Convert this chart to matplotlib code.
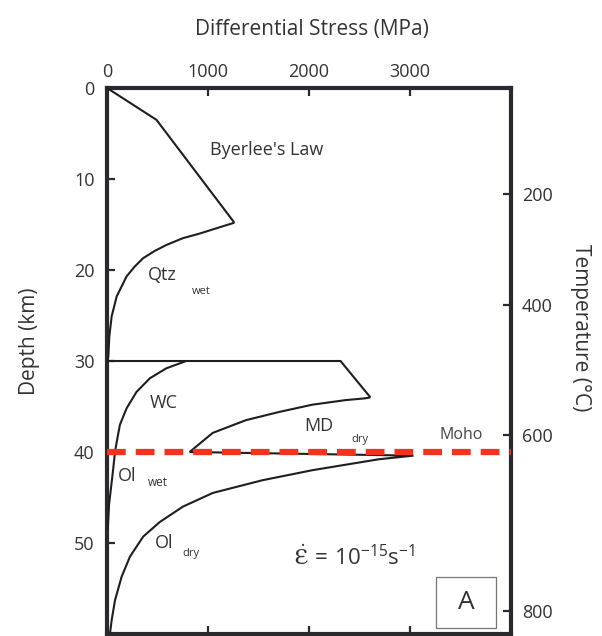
import matplotlib
matplotlib.use('Agg')
import matplotlib.pyplot as plt
from matplotlib.patches import Rectangle

plt.rcParams['font.family'] = ['Open Sans', 'DejaVu Sans']
plt.rcParams['mathtext.fontset'] = 'custom'
plt.rcParams['mathtext.rm'] = 'Open Sans'
plt.rcParams['mathtext.it'] = 'Open Sans'

# ---------------- data (stress in MPa, depth in km) ----------------
byerlee_stress = [0, 490, 1261]
byerlee_depth = [0, 3.5, 14.8]

qtz_wet_stress = [1261, 916, 752, 588, 473, 358, 276, 194, 96, 46, 23, 13, 0]
qtz_wet_depth = [14.8, 16.0, 16.5, 17.25, 17.9, 18.7, 19.6, 20.7, 22.9, 25.1, 27.3, 29.5, 30.0]

lower_crust_stress = [0, 2312, 2608]
lower_crust_depth = [30.0, 30.0, 34.0]

md_dry_stress = [2608, 2558, 2361, 2033, 1704, 1376, 1047, 818]
md_dry_depth = [34.0, 34.1, 34.3, 34.8, 35.6, 36.5, 37.9, 40.0]

ol_dry_stress = [818, 3034, 2690, 2033, 1540, 1047, 752, 522, 358, 227, 145, 79, 46, 30]
ol_dry_depth = [40.0, 40.4, 40.8, 42.0, 43.1, 44.5, 46.0, 47.7, 49.3, 51.5, 53.7,
                56.3, 58.5, 59.9]

wc_stress = [785, 588, 424, 292, 194, 128, 96, 79]
wc_depth = [30.0, 30.8, 31.9, 33.4, 35.2, 37.0, 38.9, 40.0]

ol_wet_stress = [79, 62, 39, 20, 10, 0]
ol_wet_depth = [40.0, 41.8, 44.0, 45.8, 48.0, 48.5]

moho_depth = 40.0

stress_ticks = [0, 1000, 2000, 3000]
depth_ticks = [0, 10, 20, 30, 40, 50]
temp_labels = ['200', '400', '600', '800']
temp_tick_depth = [11.6, 23.9, 38.1, 57.5]

# ---------------- figure ----------------
W, H = 602, 636
fig = plt.figure(figsize=(W / 100, H / 100), dpi=100)
ax = fig.add_axes([107 / W, 1 - 634 / H, (511 - 107) / W, (634 - 88) / H])

line_col = '#1e1e1e'
spine_col = '#2a2a2e'
text_col = '#333333'

for xs, ys in [(byerlee_stress, byerlee_depth), (qtz_wet_stress, qtz_wet_depth),
               (lower_crust_stress, lower_crust_depth), (md_dry_stress, md_dry_depth),
               (ol_dry_stress, ol_dry_depth), (wc_stress, wc_depth),
               (ol_wet_stress, ol_wet_depth)]:
    ax.plot(xs, ys, color=line_col, lw=1.5, solid_joinstyle='miter',
            solid_capstyle='butt', zorder=3)

ax.axhline(moho_depth, color='#f5321e', lw=4.5, dashes=(3.0, 1.6), zorder=4)

ax.set_xlim(0, 4000)
ax.set_ylim(60, 0)

for s in ax.spines.values():
    s.set_linewidth(3.0)
    s.set_color(spine_col)

ax.set_xticks(stress_ticks)
ax.set_yticks(depth_ticks)
ax.tick_params(axis='x', direction='in', top=True, bottom=True, labeltop=True,
               labelbottom=False, length=6, width=1.6, color=spine_col,
               labelsize=13, labelcolor=text_col, pad=5)
ax.tick_params(axis='y', direction='in', left=True, right=False, length=6, width=1.6,
               color=spine_col, labelsize=13, labelcolor=text_col, pad=9)

ax2 = ax.twinx()
ax2.set_ylim(60, 0)
ax2.set_yticks(temp_tick_depth)
ax2.set_yticklabels(temp_labels)
ax2.tick_params(axis='y', direction='in', length=6, width=1.6, color=spine_col,
                labelsize=13, labelcolor=text_col, pad=8)
for s in ax2.spines.values():
    s.set_visible(False)

# axis titles
fig.text(312 / W, 1 - 30 / H, 'Differential Stress (MPa)', ha='center', va='center',
         fontsize=15, color=text_col)
fig.text(30 / W, 1 - 341 / H, 'Depth (km)', ha='center', va='center', rotation=90,
         fontsize=15, color=text_col)
fig.text(581 / W, 1 - 328 / H, 'Temperature (°C)', ha='center', va='center',
         rotation=-90, fontsize=15, color=text_col)

# curve labels
ax.text(1585, 6.8, "Byerlee's Law", ha='center', va='center', fontsize=13, color=text_col)
ax.text(545, 20.6, 'Qtz', ha='center', va='center', fontsize=13, color=text_col)
ax.text(930, 22.4, 'wet', ha='center', va='center', fontsize=8, color=text_col)
ax.text(565, 34.6, 'WC', ha='center', va='center', fontsize=13, color=text_col)
ax.text(2100, 37.1, 'MD', ha='center', va='center', fontsize=13, color=text_col)
ax.text(2500, 38.6, 'dry', ha='center', va='center', fontsize=8, color=text_col)
ax.text(3505, 38.1, 'Moho', ha='center', va='center', fontsize=11.5, color='#444444')
ax.text(195, 42.6, 'Ol', ha='center', va='center', fontsize=13, color=text_col)
ax.text(505, 43.4, 'wet', ha='center', va='center', fontsize=8.5, color=text_col)
ax.text(565, 50.0, 'Ol', ha='center', va='center', fontsize=13, color=text_col)
ax.text(830, 51.2, 'dry', ha='center', va='center', fontsize=8, color=text_col)
ax.text(2450, 51.6, r'$\dot{\mathrm{Ɛ}}\,\mathrm{=}\,\mathrm{10^{-15}s^{-1}}$',
        ha='center', va='center', fontsize=16, color=text_col)

# panel box
ax.add_patch(Rectangle((3260, 53.7), 590, 5.6, fill=False, edgecolor='#777777',
                       lw=0.9, zorder=5))
ax.text(3555, 56.5, 'A', ha='center', va='center', fontsize=19, color=text_col)

fig.savefig('out.png', dpi=100)
